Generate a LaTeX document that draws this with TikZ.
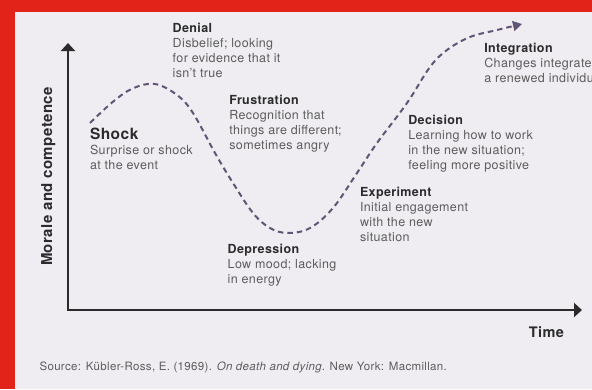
\documentclass[tikz,border=0pt]{standalone}
\usepackage{fontspec}
\setmainfont{TeX Gyre Heros}[LetterSpace=3]
\usetikzlibrary{arrows.meta}

\definecolor{frame}{HTML}{E2231A}
\definecolor{paper}{HTML}{EFEDF1}
\definecolor{curve}{HTML}{625477}
\definecolor{ink}{HTML}{2B2B2B}
\definecolor{note}{HTML}{5C5C5C}

\newcommand\stagename[1]{{\color{ink}\bfseries #1}}

\begin{document}
\begin{tikzpicture}[x=1pt,y=-1pt,
	stage/.style={anchor=base west,align=left,inner sep=0,outer sep=0,text=note,font=\fontsize{12.5}{15}\selectfont},
	axis/.style={line width=2pt,draw=ink,{Triangle[length=8pt,width=14pt]}-{Triangle[length=8pt,width=14pt]}},
	mood/.style={line width=2pt,draw=curve,dash pattern=on 5.5pt off 4pt,-{Triangle[length=9pt,width=10pt]}}]
	\useasboundingbox (0,0) rectangle (592,389);
	\fill[frame] (0,0) rectangle (592,389);
	\fill[paper] (15,12) rectangle (592,389);
	% axes
	\coordinate (top) at (68,43);
	\coordinate (o) at (68,310);
	\coordinate (end) at (582,310);
	\draw[axis] (top) -- (o) -- (end);
	\node[rotate=90,anchor=base,inner sep=0,text=ink,font=\fontsize{15}{18}\selectfont\bfseries] (y) at (52,176.5) {Morale and competence};
	\node[anchor=base west,inner sep=0,text=ink,font=\fontsize{14.5}{17}\selectfont\bfseries] (x) at (528.7,337.7) {Time};
	% the change curve
	\draw[mood] plot[smooth,tension=0.6] coordinates {(90,123) (113,101.7) (133,88.3) (155,84) (177,95) (193,113) (215,153) (233,183) (253,213) (270,228) (288,233) (310,228) (333,208) (357,173) (377,143) (407,103) (430,67) (447,50) (470,37) (497,30) (522,24)};
	% stages (base = baseline of the last line)
	\node[stage] (1) at (90,169.3) {{\fontsize{15.5}{15}\selectfont\stagename{Shock}}\\Surprise or shock\\at the event};
	\node[stage] (2) at (172.7,77.3) {\stagename{Denial}\\Disbelief; looking\\for evidence that it\\isn't true};
	\node[stage] (3) at (229.3,149) {\stagename{Frustration}\\Recognition that\\things are different;\\sometimes angry};
	\node[stage] (4) at (227.7,283.3) {\stagename{Depression}\\Low mood; lacking\\in energy};
	\node[stage] (5) at (360,241.7) {\stagename{Experiment}\\Initial engagement\\with the new\\situation};
	\node[stage] (6) at (408.3,169) {\stagename{Decision}\\Learning how to work\\in the new situation;\\feeling more positive};
	\node[stage] (7) at (484.3,82.7) {\stagename{Integration}\\Changes integrated\\a renewed individual};
	\node[anchor=base west,inner sep=0,text=note,font=\fontsize{11.5}{14}\selectfont] (src) at (39.3,370.7) {Source: Kübler-Ross, E. (1969). \textit{On death and dying}. New York: Macmillan.};
\end{tikzpicture}
\end{document}
